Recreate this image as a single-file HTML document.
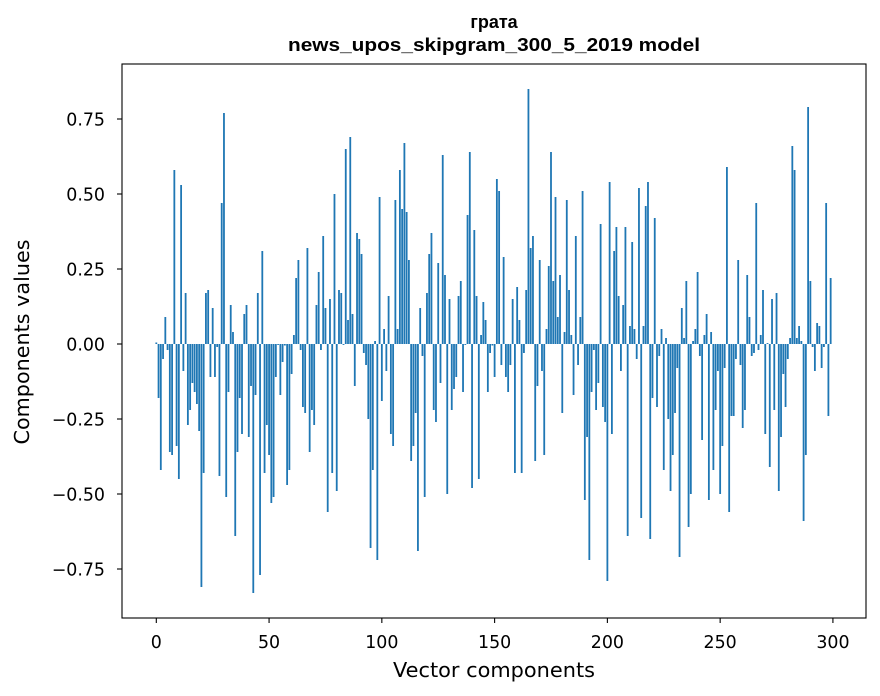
<!DOCTYPE html>
<html><head><meta charset="utf-8"><style>
body{margin:0;background:#fff;}
svg{display:block;}
text{font-family:"DejaVu Sans","Liberation Sans",sans-serif;fill:#000;}
.t{font-family:"Liberation Sans","DejaVu Sans",sans-serif;}
</style></head><body>
<svg id="chart" width="880" height="696" xmlns="http://www.w3.org/2000/svg">
<rect width="880" height="696" fill="#fff"/>
<text class="t" x="494" y="28" text-anchor="middle" font-size="18" font-weight="bold">грата</text>
<text class="t" x="494" y="51" text-anchor="middle" font-size="18" font-weight="bold" textLength="412" lengthAdjust="spacingAndGlyphs">news_upos_skipgram_300_5_2019 model</text>
<g id="bars"></g>
<g id="xticks"></g>
<g id="yticks"></g>
<rect x="122" y="64" width="744" height="554" fill="none" stroke="#000" stroke-width="1.1"/>
<text x="494" y="677" text-anchor="middle" font-size="20" textLength="202" lengthAdjust="spacingAndGlyphs">Vector components</text>
<text transform="translate(29,342) rotate(-90)" text-anchor="middle" font-size="20" textLength="205" lengthAdjust="spacingAndGlyphs">Components values</text>
</svg>
<script>
const values = [0.005,-0.18,-0.42,-0.05,0.09,-0.02,-0.36,-0.37,0.58,-0.34,-0.45,0.53,-0.09,0.17,-0.27,-0.22,-0.13,-0.16,-0.20,-0.29,
-0.81,-0.43,0.17,0.18,-0.11,0.12,-0.11,-0.01,-0.44,0.47,0.77,-0.51,-0.16,0.13,0.04,-0.64,-0.36,-0.18,-0.30,0.10,
0.13,-0.31,-0.14,-0.83,-0.17,0.17,-0.77,0.31,-0.43,-0.27,-0.37,-0.53,-0.51,-0.11,-0.003,-0.17,-0.06,-0.005,-0.47,-0.42,
-0.10,0.03,0.22,0.28,-0.02,-0.21,-0.23,0.32,-0.36,-0.22,-0.27,0.13,0.24,-0.02,0.36,0.12,-0.56,0.15,-0.43,0.50,
-0.49,0.18,0.17,-0.003,0.65,0.08,0.69,0.10,-0.14,0.37,0.35,0.30,-0.03,-0.07,-0.25,-0.68,-0.42,0.01,-0.72,0.49,
-0.19,0.05,-0.09,0.16,-0.30,-0.34,0.48,0.05,0.58,0.45,0.67,0.44,0.28,-0.39,-0.34,-0.23,-0.69,0.12,-0.04,-0.51,
0.17,0.30,0.37,-0.22,-0.26,0.27,-0.13,0.63,0.23,-0.50,0.15,-0.22,-0.15,-0.11,0.16,0.21,-0.16,-0.003,0.43,0.64,
-0.48,0.38,0.16,-0.45,0.03,0.14,0.08,-0.16,-0.03,-0.005,-0.11,0.55,0.51,-0.07,0.29,-0.11,-0.16,-0.07,0.15,-0.43,
0.19,0.08,-0.43,-0.03,0.18,0.85,0.32,0.36,-0.39,-0.14,0.28,-0.09,-0.37,0.05,0.26,0.64,0.21,0.49,0.09,0.23,
-0.23,0.04,0.48,0.18,0.03,-0.17,0.36,-0.07,0.09,0.51,-0.52,-0.31,-0.72,-0.16,-0.02,-0.22,-0.13,0.40,-0.21,-0.26,
-0.79,0.54,-0.30,0.31,0.39,0.16,-0.09,0.13,0.39,-0.64,0.06,0.34,0.05,-0.05,0.52,-0.58,0.06,0.46,0.54,-0.65,
-0.18,0.42,-0.21,-0.04,0.05,-0.42,0.02,-0.25,-0.49,-0.37,-0.23,-0.08,-0.71,0.12,0.02,0.21,-0.61,-0.50,0.01,0.05,
0.24,-0.04,-0.32,0.03,0.10,-0.52,0.04,-0.42,-0.22,-0.09,-0.50,-0.34,-0.08,0.59,-0.56,-0.24,-0.24,-0.05,0.28,-0.07,
-0.28,-0.22,0.23,0.09,-0.04,-0.03,0.47,-0.02,0.03,0.18,-0.30,0.003,-0.41,0.15,-0.22,0.17,-0.49,-0.31,-0.10,-0.21,
-0.05,0.02,0.66,0.58,0.02,0.06,0.01,-0.59,-0.37,0.79,0.21,-0.01,-0.09,0.07,0.06,-0.08,-0.01,0.47,-0.24,0.22];
const xTicks = [0,50,100,150,200,250,300];
const yTicks = [-0.75,-0.50,-0.25,0.00,0.25,0.50,0.75];
const yTickLabels = ["\u22120.75","\u22120.50","\u22120.25","0.00","0.25","0.50","0.75"];

const NS="http://www.w3.org/2000/svg";
const X0=156.3, XS=2.2554, Y0=344, YS=300;
function xScale(v){return X0+v*XS;}
function yScale(v){return Y0-v*YS;}
const barsG=document.getElementById('bars');
values.forEach((v,i)=>{
  const r=document.createElementNS(NS,'rect');
  const w=0.8*XS;
  r.setAttribute('x',xScale(i)-w/2);
  const y1=yScale(Math.max(v,0)), y2=yScale(Math.min(v,0));
  r.setAttribute('y',y1);
  r.setAttribute('width',w);
  r.setAttribute('height',Math.max(y2-y1,0.3));
  r.setAttribute('fill','#1f77b4');
  
  
  barsG.appendChild(r);
});
const xg=document.getElementById('xticks');
xTicks.forEach(t=>{
  const x=xScale(t);
  const l=document.createElementNS(NS,'line');
  l.setAttribute('x1',x);l.setAttribute('x2',x);l.setAttribute('y1',618);l.setAttribute('y2',623);
  l.setAttribute('stroke','#000');l.setAttribute('stroke-width','1.1');
  
  
  xg.appendChild(l);
  const tx=document.createElementNS(NS,'text');
  tx.setAttribute('x',x);tx.setAttribute('y',648);tx.setAttribute('text-anchor','middle');tx.setAttribute('font-size','17.4');
  tx.textContent=String(t);
  
  
  xg.appendChild(tx);
});
const yg=document.getElementById('yticks');
yTicks.forEach((t,k)=>{
  const y=yScale(t);
  const l=document.createElementNS(NS,'line');
  l.setAttribute('x1',117);l.setAttribute('x2',122);l.setAttribute('y1',y);l.setAttribute('y2',y);
  l.setAttribute('stroke','#000');l.setAttribute('stroke-width','1.1');
  
  
  yg.appendChild(l);
  const tx=document.createElementNS(NS,'text');
  tx.setAttribute('x',105);tx.setAttribute('y',y+6.3);tx.setAttribute('text-anchor','end');tx.setAttribute('font-size','17.4');
  tx.textContent=yTickLabels[k];
  
  
  yg.appendChild(tx);
});
</script>
</body></html>
